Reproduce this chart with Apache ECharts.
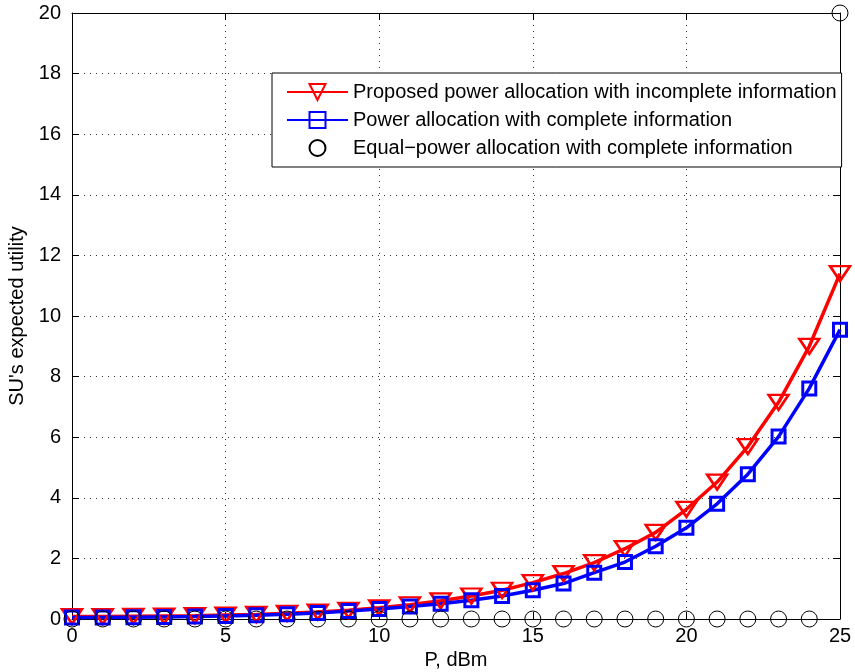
<!DOCTYPE html>
<html>
<head>
<meta charset="utf-8">
<script src="https://cdn.jsdelivr.net/npm/echarts@6/dist/echarts.min.js"></script>
<style>
  html, body { margin: 0; padding: 0; background: #fff; }
  #chart { width: 855px; height: 672px; }
</style>
</head>
<body>
<div id="chart"></div>
<script>
// Transmit power P in dBm
const powerDbm = [0,1,2,3,4,5,6,7,8,9,10,11,12,13,14,15,16,17,18,19,20,21,22,23,24,25];

// SU's expected utility for each allocation scheme
const proposedIncomplete = [0.08,0.08,0.09,0.10,0.11,0.13,0.15,0.19,0.23,0.29,0.37,0.47,0.60,0.76,0.95,1.20,1.50,1.86,2.32,2.86,3.62,4.52,5.69,7.15,9.00,11.40];
const optimalComplete   = [0.05,0.05,0.06,0.07,0.08,0.10,0.12,0.16,0.20,0.26,0.33,0.41,0.50,0.62,0.76,0.95,1.17,1.53,1.88,2.40,3.01,3.80,4.78,6.02,7.61,9.55];
const equalComplete     = [0,0,0,0,0,0,0,0,0,0,0,0,0,0,0,0,0,0,0,0,0,0,0,0,0,20];

const seriesNames = [
  'Proposed power allocation with incomplete information',
  'Power allocation with complete information',
  'Equal\u2212power allocation with complete information'
];

const pairs = ys => powerDbm.map((x, i) => [x, ys[i]]);
const FONT = '"Liberation Sans", Arial, Helvetica, sans-serif';

const chart = echarts.init(document.getElementById('chart'), null, { renderer: 'canvas' });

const gridDots = { show: true, lineStyle: { color: '#333', width: 1, type: [1, 5] } };

chart.setOption({
  animation: false,
  backgroundColor: '#fff',
  grid: { left: 72, right: 15, top: 13, bottom: 53, containLabel: false, outerBoundsMode: 'none' },
  legend: {
    orient: 'vertical',
    left: 272,
    top: 73,
    padding: [9, 5, 9, 14],
    itemGap: 8,
    itemWidth: 61,
    itemHeight: 20,
    backgroundColor: '#fff',
    borderColor: '#000',
    borderWidth: 1,
    textStyle: { fontFamily: FONT, fontSize: 20, color: '#000' },
    data: seriesNames
  },
  xAxis: [
    {
      type: 'value', min: 0, max: 25, interval: 5,
      name: 'P, dBm', nameLocation: 'middle', nameGap: 31,
      nameTextStyle: { fontFamily: FONT, fontSize: 20, color: '#000' },
      axisLine: { onZero: false, lineStyle: { color: '#000', width: 1 } },
      axisTick: { inside: true, length: 7, lineStyle: { color: '#000' } },
      axisLabel: { fontFamily: FONT, fontSize: 20, color: '#000', margin: 7 },
      splitLine: gridDots
    },
    {
      type: 'value', min: 0, max: 25, interval: 5, position: 'top',
      axisLine: { onZero: false, lineStyle: { color: '#000', width: 1 } },
      axisTick: { inside: true, length: 7, lineStyle: { color: '#000' } },
      axisLabel: { show: false },
      splitLine: { show: false }
    }
  ],
  yAxis: [
    {
      type: 'value', min: 0, max: 20, interval: 2,
      name: "SU's expected utility", nameLocation: 'middle', nameGap: 40,
      nameTextStyle: { fontFamily: FONT, fontSize: 20, color: '#000' },
      axisLine: { show: true, onZero: false, lineStyle: { color: '#000', width: 1 } },
      axisTick: { show: true, inside: true, length: 7, lineStyle: { color: '#000' } },
      axisLabel: { fontFamily: FONT, fontSize: 20, color: '#000', margin: 11 },
      splitLine: gridDots
    },
    {
      type: 'value', min: 0, max: 20, interval: 2, position: 'right',
      axisLine: { show: true, onZero: false, lineStyle: { color: '#000', width: 1 } },
      axisTick: { show: true, inside: true, length: 7, lineStyle: { color: '#000' } },
      axisLabel: { show: false },
      splitLine: { show: false }
    }
  ],
  series: [
    {
      name: seriesNames[0],
      type: 'line',
      data: pairs(proposedIncomplete),
      clip: false,
      symbol: 'triangle',
      symbolRotate: 180,
      symbolSize: [20, 15],
      lineStyle: { color: '#ff0000', width: 3.5 },
      itemStyle: { color: 'rgba(0,0,0,0)', borderColor: '#ff0000', borderWidth: 2.5 },
      emphasis: { disabled: true }
    },
    {
      name: seriesNames[1],
      type: 'line',
      data: pairs(optimalComplete),
      clip: false,
      symbol: 'rect',
      symbolSize: 13,
      lineStyle: { color: '#0000ff', width: 3.5 },
      itemStyle: { color: 'rgba(0,0,0,0)', borderColor: '#0000ff', borderWidth: 3 },
      emphasis: { disabled: true }
    },
    {
      name: seriesNames[2],
      type: 'line',
      data: pairs(equalComplete),
      clip: false,
      symbol: 'circle',
      symbolSize: 16,
      showAllSymbol: true,
      lineStyle: { width: 0, opacity: 0 },
      itemStyle: { color: 'rgba(0,0,0,0)', borderColor: '#000', borderWidth: 1 },
      emphasis: { disabled: true }
    }
  ]
});
</script>
</body>
</html>
